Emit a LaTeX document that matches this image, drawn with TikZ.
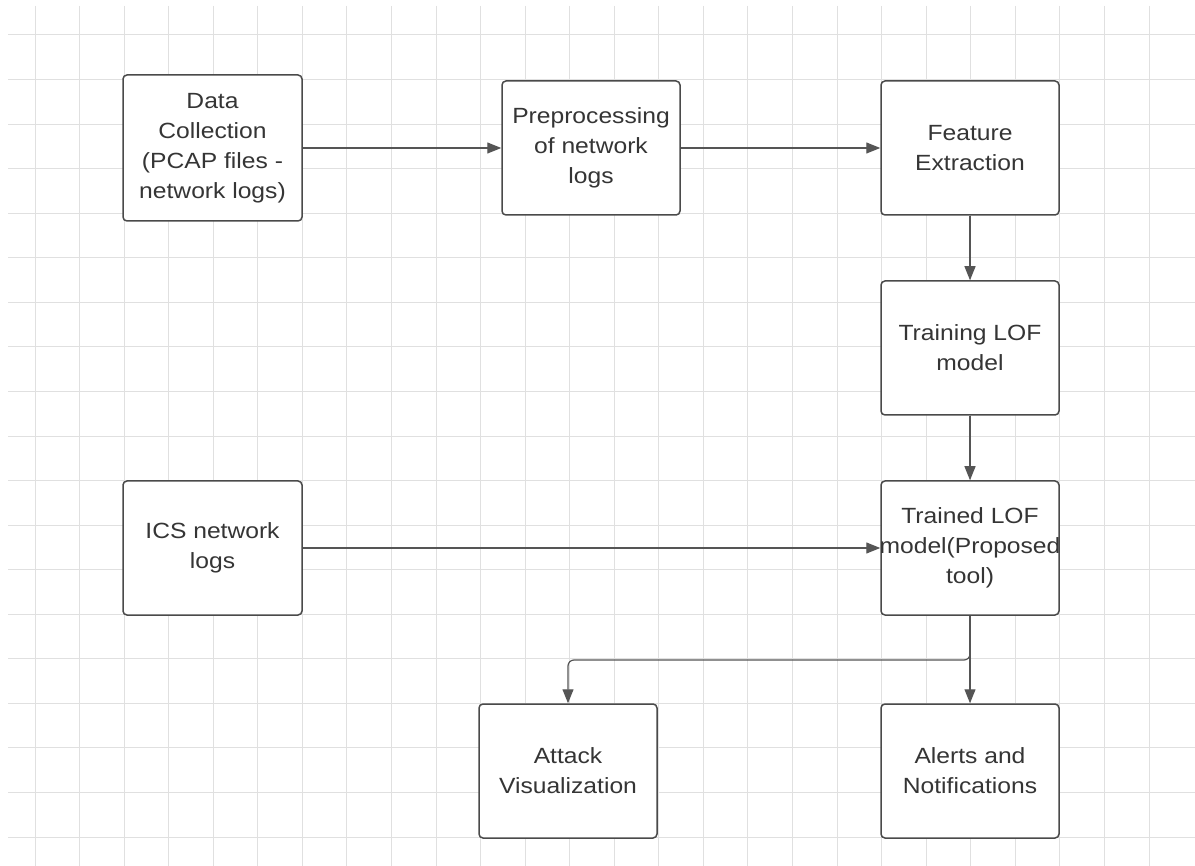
\documentclass[tikz,border=0pt]{standalone}
\usepackage{fontspec}
\setmainfont{Liberation Sans}[FakeStretch=1.12]
\usetikzlibrary{arrows.meta}
\definecolor{gridc}{HTML}{E0E0E0}
\definecolor{boxc}{HTML}{4A4A4A}
\definecolor{linec}{HTML}{555555}
\definecolor{textc}{HTML}{353535}
\tikzset{
  stepbox/.style={draw=boxc, line width=1.5pt, rounded corners=4pt, fill=white,
    minimum width=178pt, minimum height=134pt, inner sep=0pt, align=center,
    text=textc, font=\fontsize{22}{30}\selectfont},
  conn/.style={draw=linec, line width=1.2pt, -{Triangle[length=14pt,width=11pt]}},
  gridline/.style={draw=gridc, line width=1pt}
}
\begin{document}
\begin{tikzpicture}[x=1pt,y=-1pt]
\useasboundingbox (0,0) rectangle (1195,866);
\fill[white] (0,0) rectangle (1195,866);
% grid
\foreach \i in {0,...,25} {
  \draw[gridline] ({35+44.56*\i},6) -- ({35+44.56*\i},866);
}
\foreach \j in {0,...,18} {
  \draw[gridline] (8,{35+44.56*\j}) -- (1195,{35+44.56*\j});
}
% nodes
\node[stepbox, minimum width=179pt, minimum height=146pt] (data) at (212.5,148) {Data\\Collection\\(PCAP files -\\network logs)};
\node[stepbox] (pre) at (591,148) {Preprocessing\\of network\\logs};
\node[stepbox] (feat) at (970,148) {Feature\\Extraction};
\node[stepbox] (train) at (970,348) {Training LOF\\model};
\node[stepbox] (trained) at (970,548) {Trained LOF\\\makebox[0pt][c]{model(Proposed}\\tool)};
\node[stepbox, minimum width=179pt] (ics) at (212.5,548) {ICS network\\logs};
\node[stepbox] (attack) at (568,771) {Attack\\Visualization};
\node[stepbox] (alerts) at (970,771) {Alerts and\\Notifications};
% connectors
\draw[conn] (data.east) -- (pre.west);
\draw[conn] (pre.east) -- (feat.west);
\draw[conn] (feat.south) -- (train.north);
\draw[conn] (train.south) -- (trained.north);
\draw[conn] (ics.east) -- (trained.west);
\draw[conn] (trained.south) -- (alerts.north);
\coordinate (branch) at (970,660);
\draw[conn, rounded corners=6pt] (trained.south) -- (branch) -| (attack.north);
\end{tikzpicture}
\end{document}
